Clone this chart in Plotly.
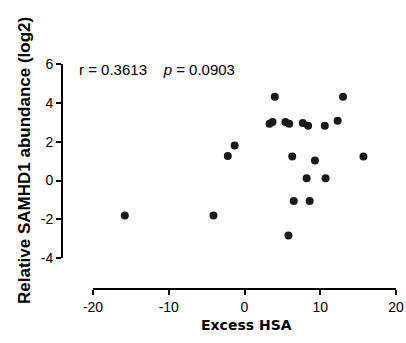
import plotly.graph_objects as go

excess_hsa = [-15.8, -4.1, -2.2, -1.3, 3.3, 3.7, 4.0, 5.4, 5.9, 6.3, 6.5, 5.8,
              7.7, 8.4, 8.2, 8.6, 9.3, 10.6, 10.7, 12.3, 13.0, 15.7]
samhd1 = [-1.8, -1.8, 1.27, 1.8, 2.92, 3.01, 4.31, 3.01, 2.92, 1.24, -1.05, -2.83,
          2.96, 2.82, 0.12, -1.05, 1.03, 2.82, 0.12, 3.08, 4.31, 1.24]

x_ticks = [-20, -10, 0, 10, 20]
x_ticklabels = ["-20", "-10", "0", "10", "20"]
y_ticks = [-4, -2, 0, 2, 4, 6]
y_ticklabels = ["-4", "-2", "0", "2", "4", "6"]

W, H = 406, 343
ml, mr, mt, mb = 62, 10, 64, 54
pw = W - ml - mr
ph = H - mt - mb

def px_x(p):
    return (p - ml) / pw

def px_y(p):
    return (H - mb - p) / ph

fig = go.Figure(go.Scatter(
    x=excess_hsa, y=samhd1, mode="markers",
    marker=dict(size=8, color="#1a1a1a", line=dict(width=0)),
    cliponaxis=False, showlegend=False))

tickfont = dict(family="Liberation Sans, Arial", size=14, color="black")
fig.update_layout(
    width=W, height=H, margin=dict(l=ml, r=mr, t=mt, b=mb, autoexpand=False),
    plot_bgcolor="white", paper_bgcolor="white",
    xaxis=dict(range=[-20, 20], domain=[px_x(93), 1], anchor="free", position=0,
               automargin=False,
               tickvals=x_ticks, ticktext=x_ticklabels, ticks="outside", ticklen=5,
               tickwidth=2, tickcolor="black", showline=True, linecolor="black",
               linewidth=2, showgrid=False, zeroline=False, tickfont=tickfont),
    yaxis=dict(range=[-4, 6], domain=[px_y(258.3), 1], anchor="free", position=0,
               automargin=False,
               tickvals=y_ticks, ticktext=y_ticklabels, ticks="outside", ticklen=5,
               tickwidth=2, tickcolor="black", showline=True, linecolor="black",
               linewidth=2, showgrid=False, zeroline=False, tickfont=tickfont),
    annotations=[
        dict(text="r = 0.3613    <i>p</i> = 0.0903", x=px_x(77), y=px_y(70),
             xref="paper", yref="paper", xanchor="left", yanchor="middle",
             showarrow=False,
             font=dict(family="Liberation Sans, Arial", size=15, color="black")),
        dict(text="<b>Excess HSA</b>", x=px_x(246), y=px_y(325),
             xref="paper", yref="paper", xanchor="center", yanchor="middle",
             showarrow=False,
             font=dict(family="DejaVu Sans", size=14, color="black")),
        dict(text="<b>Relative SAMHD1 abundance (log2)</b>", x=px_x(24), y=px_y(161),
             xref="paper", yref="paper", xanchor="center", yanchor="middle",
             textangle=-90, showarrow=False,
             font=dict(family="Liberation Sans, Arial", size=17, color="black")),
    ],
)

fig.write_html("out.html", config={"displayModeBar": False},
               post_script="document.body.style.margin='0';")
